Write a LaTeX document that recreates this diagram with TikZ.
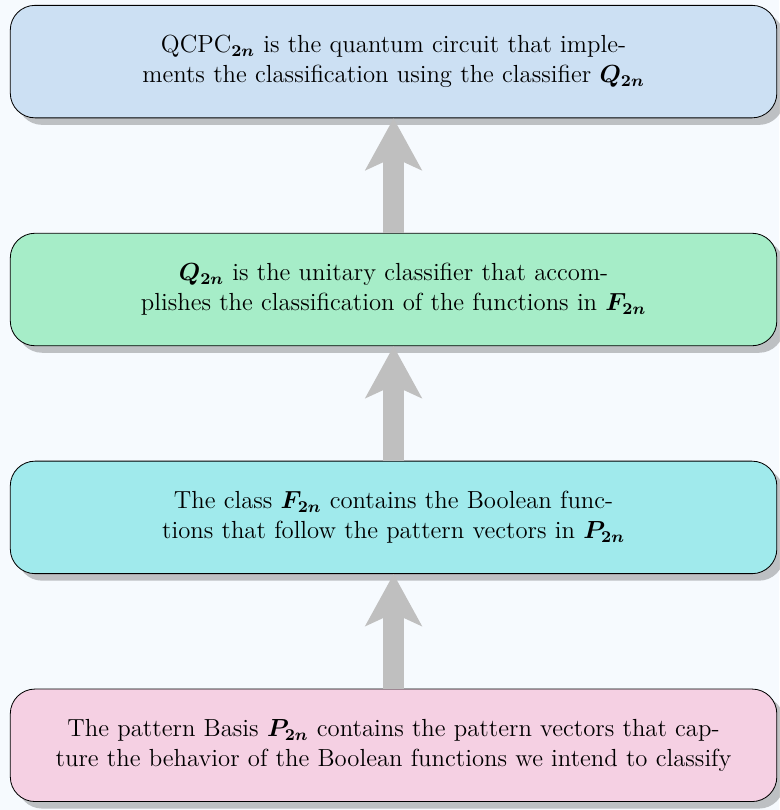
\documentclass[tikz,border=0pt,12pt]{standalone}
\definecolor{pagebg}{RGB}{246,250,254}
\definecolor{circblue}{RGB}{204,224,243}
\definecolor{classgreen}{RGB}{166,237,200}
\definecolor{funccyan}{RGB}{160,234,236}
\definecolor{basispink}{RGB}{245,208,227}
\usepackage{amsmath,bm}
\usetikzlibrary{positioning,arrows.meta,shadows,calc,backgrounds}
\tikzset{
  stage/.style = {rectangle, draw, rounded corners=12pt,
                  minimum width = 372pt, minimum height = 54.6pt,
                  text width = 360pt, align = center,
                  drop shadow = {shadow xshift=3.4pt, shadow yshift=-3.4pt,
                                 fill=black, opacity=.23}},
  up/.style    = {-{Stealth[length=25pt,width=27pt,inset=6pt]},
                  line width=10pt, draw=gray!50}
}

\begin{document}
\begin{tikzpicture}[node distance=55.6pt]
    \node[stage, fill=circblue] (qcpc)
      {QCPC$_{\bm{2n}}$ is the quantum circuit that imple-\\
       ments the classification using the classifier $\bm{Q_{2n}}$};
    \node[stage, fill=classgreen, below=of qcpc] (unitary)
      {$\bm{Q_{2n}}$ is the unitary classifier that accom-\\
       plishes the classification of the functions in $\bm{F_{2n}}$};
    \node[stage, fill=funccyan, below=of unitary] (fclass)
      {The class $\bm{F_{2n}}$ contains the Boolean func-\\
       tions that follow the pattern vectors in $\bm{P_{2n}}$};
    \node[stage, fill=basispink, below=of fclass] (pbasis)
      {The pattern Basis $\bm{P_{2n}}$ contains the pattern vectors that cap-\\
       ture the behavior of the Boolean functions we intend to classify};

    % arrows upwards
    \draw[up] (pbasis.north) -- (fclass.south);
    \draw[up] (fclass.north) -- (unitary.south);
    \draw[up] (unitary.north) -- (qcpc.south);

    \begin{pgfonlayer}{background}
      \fill[pagebg] ($(qcpc.north west)+(-4.8pt,2.4pt)$)
        rectangle ($(pbasis.south east)+(1pt,-3.9pt)$);
    \end{pgfonlayer}
    \useasboundingbox ($(qcpc.north west)+(-4.8pt,2.4pt)$)
      rectangle ($(pbasis.south east)+(1pt,-3.9pt)$);
\end{tikzpicture}
\end{document}
